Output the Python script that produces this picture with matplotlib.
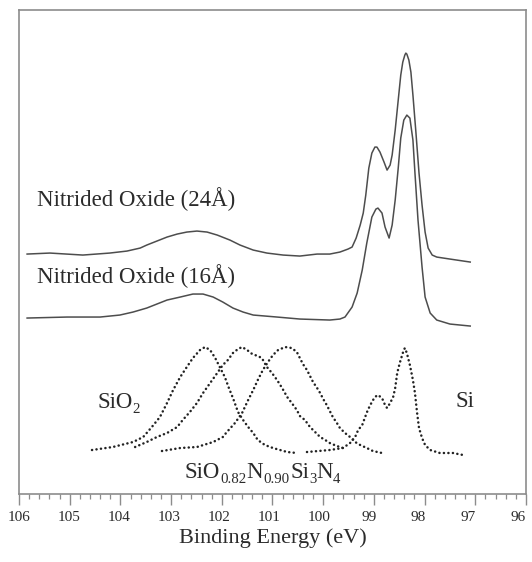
import matplotlib
matplotlib.use("Agg")
import matplotlib.pyplot as plt
from matplotlib.ticker import MultipleLocator
from matplotlib.transforms import ScaledTranslation

plt.rcParams["font.family"] = ["Liberation Serif", "DejaVu Serif"]

# --- nitrided oxide spectra (solid lines) ---
e_24 = [105.84, 105.39, 104.74, 104.21, 103.87, 103.61, 103.48, 103.28, 103.08,
        102.88, 102.69, 102.49, 102.29, 102.09, 101.84, 101.64, 101.38, 101.11,
        100.79, 100.46, 100.12, 99.87, 99.67, 99.51, 99.43, 99.35, 99.27, 99.21,
        99.16, 99.10, 99.04, 98.98, 98.94, 98.88, 98.80, 98.74, 98.68, 98.64,
        98.58, 98.52, 98.47, 98.43, 98.39, 98.37, 98.35, 98.31, 98.27, 98.23,
        98.17, 98.11, 98.05, 97.99, 97.93, 97.85, 97.76, 97.50, 97.10]
i_24 = [240, 241, 239, 241, 243, 246, 249, 253, 257,
        260, 262, 263, 262, 259, 254, 249, 244, 241,
        239, 238, 240, 240, 242, 245, 247, 256, 269, 281,
        299, 326, 341, 347, 347, 342, 332, 324, 329, 339,
        364, 394, 419, 432, 439, 441, 440, 434, 422, 399,
        361, 321, 289, 262, 246, 239, 237, 235, 232]

e_16 = [105.84, 105.05, 104.40, 104.01, 103.75, 103.48, 103.28, 103.08, 102.82,
        102.57, 102.37, 102.17, 101.98, 101.78, 101.58, 101.38, 100.91, 100.46,
        99.87, 99.67, 99.57, 99.43, 99.33, 99.23, 99.14, 99.04, 98.96, 98.92,
        98.84, 98.78, 98.70, 98.64, 98.58, 98.52, 98.47, 98.41, 98.35, 98.29,
        98.23, 98.19, 98.13, 98.05, 97.99, 97.89, 97.76, 97.50, 97.10]
i_16 = [176, 177, 177, 179, 182, 186, 190, 194, 197,
        200, 200, 197, 192, 186, 182, 179, 177, 175,
        174, 175, 177, 187, 201, 224, 251, 277, 285, 286,
        281, 267, 256, 269, 294, 326, 356, 374, 379, 376,
        354, 321, 274, 227, 197, 181, 174, 170, 168]

# --- reference spectra (dotted) ---
e_sio2 = [104.56, 104.15, 103.75, 103.55, 103.38, 103.22, 103.08, 102.96, 102.82,
          102.69, 102.57, 102.43, 102.33, 102.23, 102.13, 102.04, 101.94, 101.86,
          101.78, 101.68, 101.58, 101.48, 101.38, 101.29, 101.15, 100.99, 100.71,
          100.52]
i_sio2 = [44, 47, 52, 57, 67, 77, 91, 104, 117,
          127, 136, 144, 147, 144, 136, 127, 117, 106,
          96, 82, 74, 67, 61, 54, 49, 46, 42,
          41]

e_sion = [103.71, 103.48, 103.28, 103.08, 102.88, 102.77, 102.63, 102.49, 102.37,
          102.23, 102.09, 101.98, 101.88, 101.78, 101.68, 101.60, 101.50, 101.40,
          101.29, 101.21, 101.11, 101.01, 100.91, 100.81, 100.71, 100.62, 100.52,
          100.46, 100.36, 100.26, 100.16, 100.06, 99.96, 99.87, 99.73, 99.61]
i_sion = [47, 52, 57, 61, 67, 74, 82, 91, 101,
          111, 121, 129, 134, 141, 145, 147, 144, 140,
          138, 136, 127, 121, 114, 106, 97, 91, 84,
          78, 74, 67, 62, 57, 54, 51, 48, 46]

e_si3n4 = [103.18, 102.82, 102.49, 102.17, 101.98, 101.90, 101.74, 101.60, 101.48,
           101.38, 101.29, 101.19, 101.09, 100.99, 100.89, 100.75, 100.62, 100.52,
           100.46, 100.40, 100.32, 100.26, 100.20, 100.12, 100.06, 100.00, 99.93,
           99.87, 99.81, 99.73, 99.67, 99.57, 99.47, 99.37, 99.27, 99.14, 99.02,
           98.84]
i_si3n4 = [43, 46, 47, 52, 57, 62, 71, 81, 94,
           104, 114, 124, 132, 139, 144, 147, 146, 142,
           136, 130, 124, 118, 112, 106, 101, 95, 89,
           83, 77, 71, 66, 61, 57, 52, 49, 46, 43,
           41]

e_si = [100.32, 99.87, 99.61, 99.47, 99.37, 99.31, 99.23, 99.18, 99.12,
        99.04, 98.98, 98.92, 98.84, 98.78, 98.74, 98.68, 98.62, 98.58,
        98.54, 98.49, 98.43, 98.39, 98.35, 98.29, 98.23, 98.19, 98.15,
        98.11, 98.05, 97.99, 97.89, 97.70, 97.44, 97.24]
i_si = [42, 44, 46, 51, 57, 64, 69, 76, 84,
        92, 97, 99, 96, 89, 86, 91, 97, 106,
        121, 131, 141, 146, 141, 129, 114, 101, 82,
        66, 56, 49, 44, 41, 41, 39]

major_ticks = [106, 105, 104, 103, 102, 101, 100, 99, 98, 97, 96]

line_col = "#4d4d4d"
dot_col = "#222222"
text_col = "#2b2b2b"
frame_col = "#8c8c8c"
fs = 16.5


def chem_label(ax, x, y, parts, size=fs, sub_scale=0.65, drop=3.6):
    """Formula text with small, low subscripts: parts = [(text, is_sub), ...]."""
    base = ax.text(x, y, parts[0][0], fontsize=size, color=text_col, va="bottom")
    prev = base
    for s, is_sub in parts[1:]:
        if is_sub:
            ss = size * sub_scale
            dy = 0.217 * (size - ss) - drop
        else:
            ss, dy = size, 0
        prev = ax.annotate(s, xy=(1, 0), xycoords=(prev, base),
                           xytext=(0, dy), textcoords="offset points",
                           fontsize=ss, color=text_col, va="bottom", ha="left")
    return base


fig = plt.figure(figsize=(5.32, 5.62), dpi=100)
ax = fig.add_axes([0.0357, 0.121, 0.953, 0.861])

ax.plot(e_24, i_24, color=line_col, lw=1.1)
ax.plot(e_16, i_16, color=line_col, lw=1.1)

dotted = dict(color=dot_col, lw=1.8, linestyle=(0, (0.05, 1.75)),
              dash_capstyle="round")
for e, i in [(e_sio2, i_sio2), (e_sion, i_sion), (e_si3n4, i_si3n4), (e_si, i_si)]:
    ax.plot(e, i, **dotted)

ax.text(105.64, 288, "Nitrided Oxide (24Å)", fontsize=fs, color=text_col)
ax.text(105.64, 211, "Nitrided Oxide (16Å)", fontsize=fs, color=text_col)
ax.text(97.40, 87, "Si", fontsize=fs, color=text_col)
# va="bottom" puts the box (with descent) on y, so y sits ~5 units under the baseline
chem_label(ax, 104.46, 81, [("SiO", False), ("2", True)])
chem_label(ax, 102.73, 11, [("SiO", False), ("0.82", True), ("N", False), ("0.90", True)])
chem_label(ax, 100.65, 11, [("Si", False), ("3", True), ("N", False), ("4", True)])

ax.set_xlim(106, 96)
ax.set_ylim(0, 484)
ax.set_xticks(major_ticks)
ax.xaxis.set_minor_locator(MultipleLocator(0.2))
ax.set_yticks([])
ax.tick_params(axis="x", which="major", direction="out", length=8, width=1.0,
               color=frame_col, labelsize=11, labelcolor=text_col, pad=4)
ax.tick_params(axis="x", which="minor", direction="out", length=3.5, width=0.9,
               color=frame_col)
# labels in the scan drift slightly left of their ticks toward the right end
for k, tick in enumerate(ax.xaxis.get_major_ticks()):
    lab = tick.label1
    lab.set_transform(lab.get_transform() +
                      ScaledTranslation(-0.0075 * k, 0, fig.dpi_scale_trans))

for spine in ax.spines.values():
    spine.set_color(frame_col)
    spine.set_linewidth(1.2)

ax.set_xlabel("Binding Energy (eV)", fontsize=16, color=text_col, labelpad=3)

fig.savefig("out.png", dpi=100)
